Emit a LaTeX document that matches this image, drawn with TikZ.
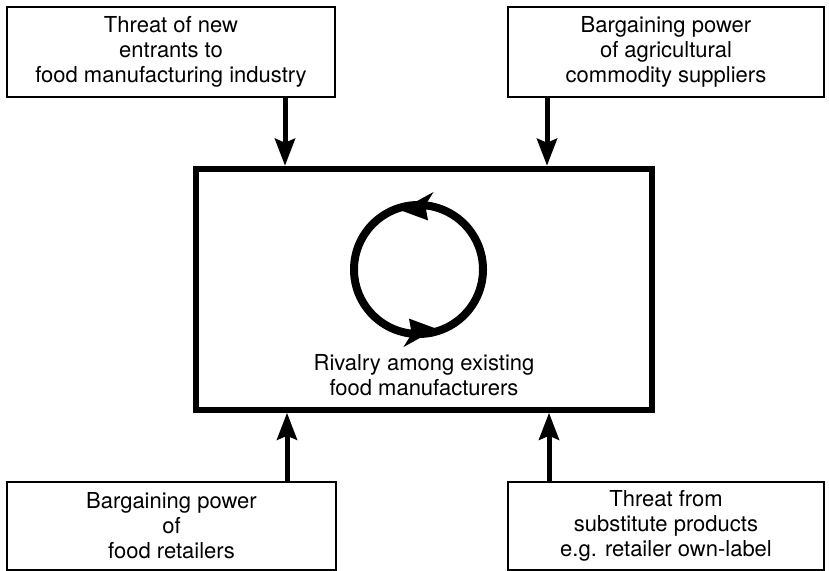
\documentclass[tikz,border=0pt]{standalone}
\usepackage{fontspec}
\setmainfont{TeX Gyre Heros}
\usepackage{tikz}
\usetikzlibrary{arrows.meta, positioning, calc}
\tikzstyle{force} = [rectangle, draw=black, line width=1.6pt, text centered, align=center, minimum height=90pt, inner sep=0pt, font=\fontsize{22}{25}\selectfont]
\tikzstyle{market} = [rectangle, draw=black, line width=6pt, minimum width=456pt, minimum height=241pt]
\tikzstyle{label} = [text centered, align=center, font=\fontsize{22}{25}\selectfont]
\tikzstyle{arrow} = [line width=5pt, -{Stealth[length=27pt, width=20pt, inset=4pt]}]
\tikzstyle{ring} = [line width=8pt]

\begin{document}
\begin{tikzpicture}[x=1pt, y=-1pt]
\useasboundingbox (0,0) rectangle (829,570);

\node (entrants) [force, minimum width=328pt] at (171,52) {Threat of new\\entrants to\\food manufacturing industry};
\node (suppliers) [force, minimum width=316pt] at (666,52) {Bargaining power\\of agricultural\\commodity suppliers};
\node (rivalry) [market] at (424.25,289.25) {};
\node (rivalrytext) [label] at (424,375) {Rivalry among existing\\food manufacturers};
\node (retailers) [force, minimum width=329pt, minimum height=88pt] at (171.5,526) {Bargaining power\\of\\food retailers};
\node (substitutes) [force, minimum width=316pt, minimum height=88pt] at (666,526) {Threat from\\substitute products\\e.g. retailer own-label};

\draw [arrow] ([xshift=114pt]entrants.south) -- ([xshift=114pt]entrants.south |- rivalry.north);
\draw [arrow] ([xshift=-119pt]suppliers.south) -- ([xshift=-119pt]suppliers.south |- rivalry.north);
\draw [arrow] ([xshift=115.5pt]retailers.north) -- ([xshift=115.5pt]retailers.north |- rivalry.south);
\draw [arrow] ([xshift=-117pt]substitutes.north) -- ([xshift=-117pt]substitutes.north |- rivalry.south);

% rivalry cycle
\coordinate (ring) at (418.5,269.5);
\draw [ring] (ring) circle [radius=64.5pt];
\fill ($(ring)+(-73:62pt)$) -- ($(ring)+(-101:79pt)$) -- ($(ring)+(-96:64.5pt)$) -- ($(ring)+(-101:50pt)$) -- cycle;
\fill ($(ring)+(107:62pt)$) -- ($(ring)+(79:79pt)$) -- ($(ring)+(84:64.5pt)$) -- ($(ring)+(79:50pt)$) -- cycle;

\end{tikzpicture}
\end{document}
